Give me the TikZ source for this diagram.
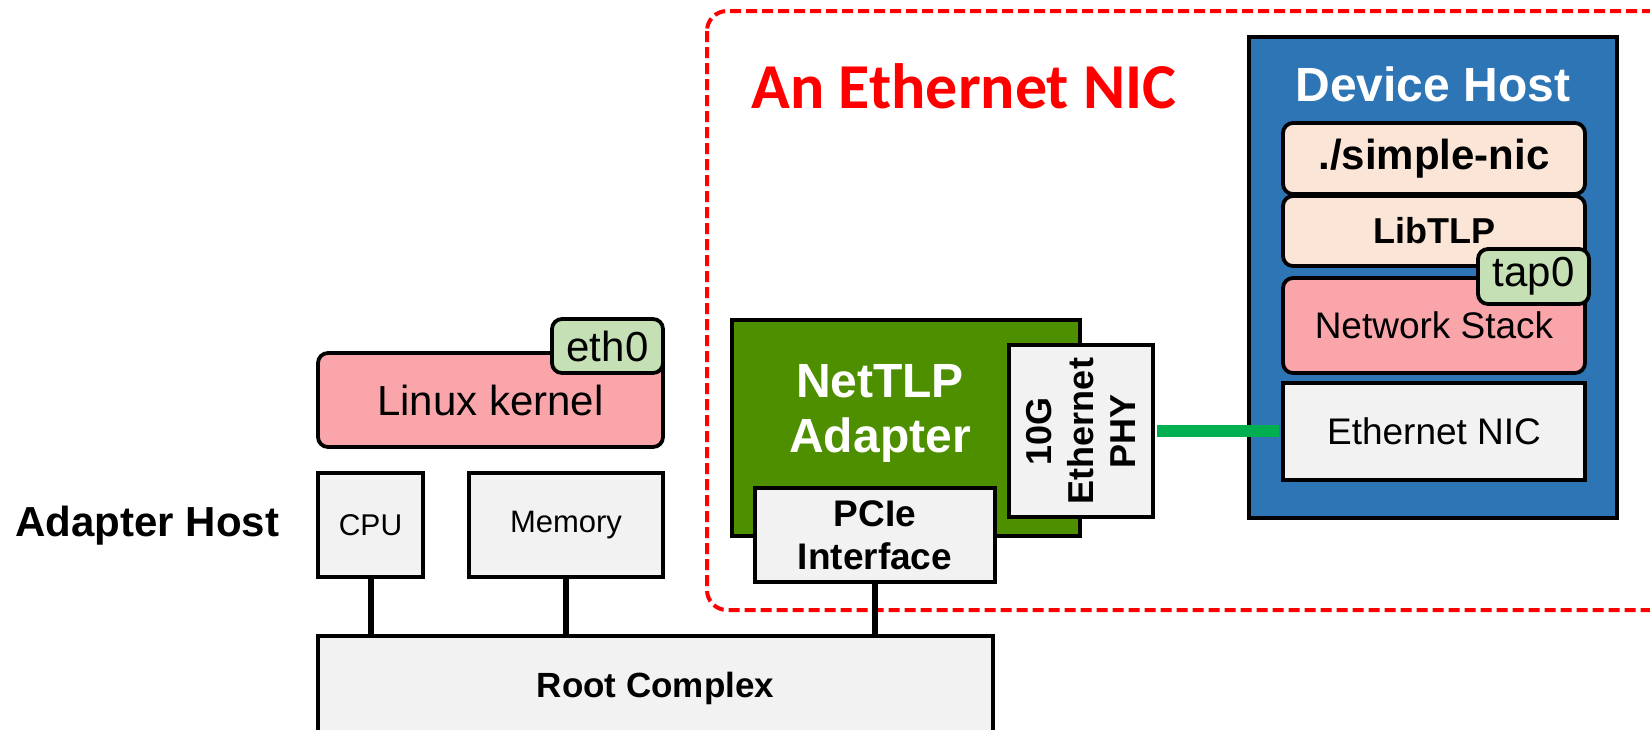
\documentclass[tikz,border=0pt]{standalone}
\usepackage{fontspec}
\setmainfont{Liberation Sans}
\newfontfamily\titlefont{Carlito}
\definecolor{boxgrey}{RGB}{242,242,242}
\definecolor{kernelpink}{RGB}{249,165,170}
\definecolor{ifgreen}{RGB}{197,224,180}
\definecolor{peach}{RGB}{251,229,214}
\definecolor{nettlpgreen}{RGB}{78,143,0}
\definecolor{hostblue}{RGB}{46,117,182}
\definecolor{linkgreen}{RGB}{0,176,80}
\definecolor{nicred}{RGB}{255,0,0}
\newcommand{\fs}[2]{\fontsize{#1pt}{#2pt}\selectfont}
\begin{document}
\begin{tikzpicture}[x=0.5pt,y=-0.5pt,
  plain/.style={draw=black, line width=1.9pt, fill=boxgrey, inner sep=0pt, align=center},
  rbox/.style={plain, rounded corners=5pt},
  lbl/.style={inner sep=0pt, align=center},
  bus/.style={draw=black, line width=3pt},
  link/.style={draw=linkgreen, line width=6pt},
  nicframe/.style={draw=nicred, line width=2pt, dash pattern=on 5.5pt off 2.5pt, rounded corners=10pt}]
\clip (0,0) rectangle (1650,729);
\fill[white] (0,0) rectangle (1650,729);

% dashed frame around the emulated NIC
\draw[nicframe] (707,11) rectangle (1700,610);
\node[lbl, text=nicred, font=\titlefont\bfseries\fs{32}{38}] (title) at (964,86) {An Ethernet NIC};

% adapter host
\node[lbl, font=\bfseries\fs{21}{25}] (ahost) at (147.5,526) {Adapter Host};
\node[rbox, fill=kernelpink, minimum width=172.5pt, minimum height=47pt, font=\fs{21}{25}] (linux) at (490.5,400) {Linux kernel};
\node[rbox, fill=ifgreen, minimum width=55.5pt, minimum height=27pt, font=\fs{21}{25}] (eth0) at (607.5,346) {eth0};
\node[plain, minimum width=52.5pt, minimum height=52pt, font=\fs{15}{18}] (cpu) at (370.5,525) {CPU};
\node[plain, minimum width=97pt, minimum height=52pt, font=\fs{15.5}{18}] (mem) at (566,525) {Memory};
\node[plain, minimum width=337.5pt, minimum height=52pt, font=\bfseries\fs{17.5}{21}] (root) at (655.5,688) {Root Complex};

% NetTLP adapter board
\node[plain, fill=nettlpgreen, minimum width=174pt, minimum height=108pt] (nettlp) at (906,428) {};
\node[lbl, text=white, font=\bfseries\fs{24}{27.5}] (nettlpl) at (880,413) {NetTLP\\Adapter};
\node[plain, minimum width=72pt, minimum height=86pt] (phy) at (1081,431) {};
\node[lbl, rotate=90, font=\bfseries\fs{18}{21}] (phyl) at (phy.center) {10G\\Ethernet\\PHY};
\node[plain, minimum width=120pt, minimum height=47pt, font=\bfseries\fs{18.5}{21.5}] (pcie) at (875,535) {PCIe\\Interface};

% device host
\node[plain, fill=hostblue, minimum width=184pt, minimum height=240.5pt] (dhost) at (1433,277.5) {};
\node[lbl, text=white, font=\bfseries\fs{24}{28}] (dhostl) at (1433,84) {Device Host};
\node[rbox, fill=peach, minimum width=151pt, minimum height=35.5pt, font=\bfseries\fs{21}{25}] (snic) at (1434,158.5) {./simple-nic};
\node[rbox, fill=peach, minimum width=151pt, minimum height=35pt, font=\bfseries\fs{18}{21}] (libtlp) at (1434,231) {LibTLP};
\node[rbox, fill=kernelpink, minimum width=151pt, minimum height=47.5pt, font=\fs{18.5}{22}] (nstack) at (1434,325.5) {\raisebox{-1.5pt}{Network Stack}};
\node[rbox, fill=ifgreen, minimum width=55.5pt, minimum height=27.5pt, font=\fs{21}{25}] (tap0) at (1533.5,276.5) {tap0};
\node[plain, minimum width=151pt, minimum height=48.5pt, font=\fs{18.5}{22}] (enic) at (1434,431.5) {Ethernet NIC};

% connections
\draw[bus] (cpu.south) -- (cpu.south |- root.north);
\draw[bus] (mem.south) -- (mem.south |- root.north);
\draw[bus] (pcie.south) -- (pcie.south |- root.north);
\draw[link, shorten <=0.95pt, shorten >=0.95pt] (phy.east) -- (phy.east -| enic.west);
\end{tikzpicture}
\end{document}
